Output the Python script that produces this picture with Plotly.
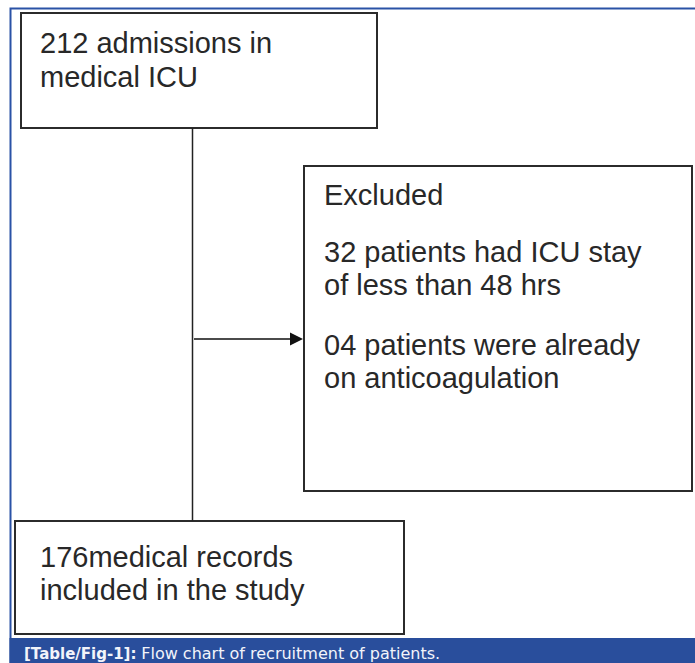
import plotly.graph_objects as go

W, H = 695, 663

# Flow chart content
box_text = [
    ["212 admissions in", "medical ICU"],
    ["Excluded", "32 patients had ICU stay", "of less than 48 hrs", "04 patients were already", "on anticoagulation"],
    ["176medical records", "included in the study"],
]
caption_label = "[Table/Fig-1]:"
caption_text = "Flow chart of recruitment of patients."

# layout geometry (page pixels, y downward)
boxes = [(21, 13, 377, 128), (304, 166, 692, 491), (15, 521, 404, 634)]
text_pos = [
    [(38, 43), (38, 77)],
    [(322, 195), (322, 252), (322, 285), (322, 345), (322, 378)],
    [(38, 557), (38, 590)],
]

fig = go.Figure()
fig.add_trace(go.Scatter(x=[0, W], y=[0, H], mode="markers", marker=dict(opacity=0),
                         hoverinfo="skip", showlegend=False))

shapes = []
# outer blue frame
shapes.append(dict(type="rect", x0=10.5, y0=8.5, x1=W + 10, y1=H + 10, line=dict(color="#2a52a6", width=2),
                   fillcolor="rgba(0,0,0,0)", layer="below"))
# caption bar
shapes.append(dict(type="rect", x0=9.5, y0=638, x1=W + 10, y1=H + 10, line=dict(width=0), fillcolor="#294e9c",
                   layer="below"))
for (x0, y0, x1, y1) in boxes:
    shapes.append(dict(type="rect", x0=x0, y0=y0, x1=x1, y1=y1, line=dict(color="#2b2b2b", width=2),
                       fillcolor="white", layer="below"))
# vertical connector
shapes.append(dict(type="line", x0=192.5, y0=128, x1=192.5, y1=521, line=dict(color="#222222", width=1.5)))

annotations = []
for lines, poss in zip(box_text, text_pos):
    for t, (x, y) in zip(lines, poss):
        annotations.append(dict(x=x, y=y, text=t, showarrow=False, xanchor="left", yanchor="middle",
                                font=dict(family="Liberation Sans, Arial, sans-serif", size=29, color="#282828")))
# arrow to excluded box
annotations.append(dict(x=303, y=339, ax=192.5, ay=339, xref="x", yref="y", axref="x", ayref="y", text="",
                        showarrow=True, arrowhead=2, arrowsize=2, arrowwidth=1.3, arrowcolor="#111111"))
# caption
annotations.append(dict(x=22, y=653,
                        text=f"<b>{caption_label}</b> <span style='font-size:16px'>{caption_text}</span>",
                        showarrow=False, xanchor="left", yanchor="middle",
                        font=dict(family="DejaVu Sans, sans-serif", size=15, color="#f2f4fa")))

fig.update_layout(
    width=W, height=H, margin=dict(l=0, r=0, t=0, b=0),
    paper_bgcolor="white", plot_bgcolor="white",
    xaxis=dict(range=[0, W], visible=False, fixedrange=True),
    yaxis=dict(range=[H, 0], visible=False, fixedrange=True),
    shapes=shapes, annotations=annotations, showlegend=False,
)
fig.write_html("out.html", config={"displayModeBar": False},
               post_script="document.body.style.margin='0';document.body.style.overflow='hidden';")
